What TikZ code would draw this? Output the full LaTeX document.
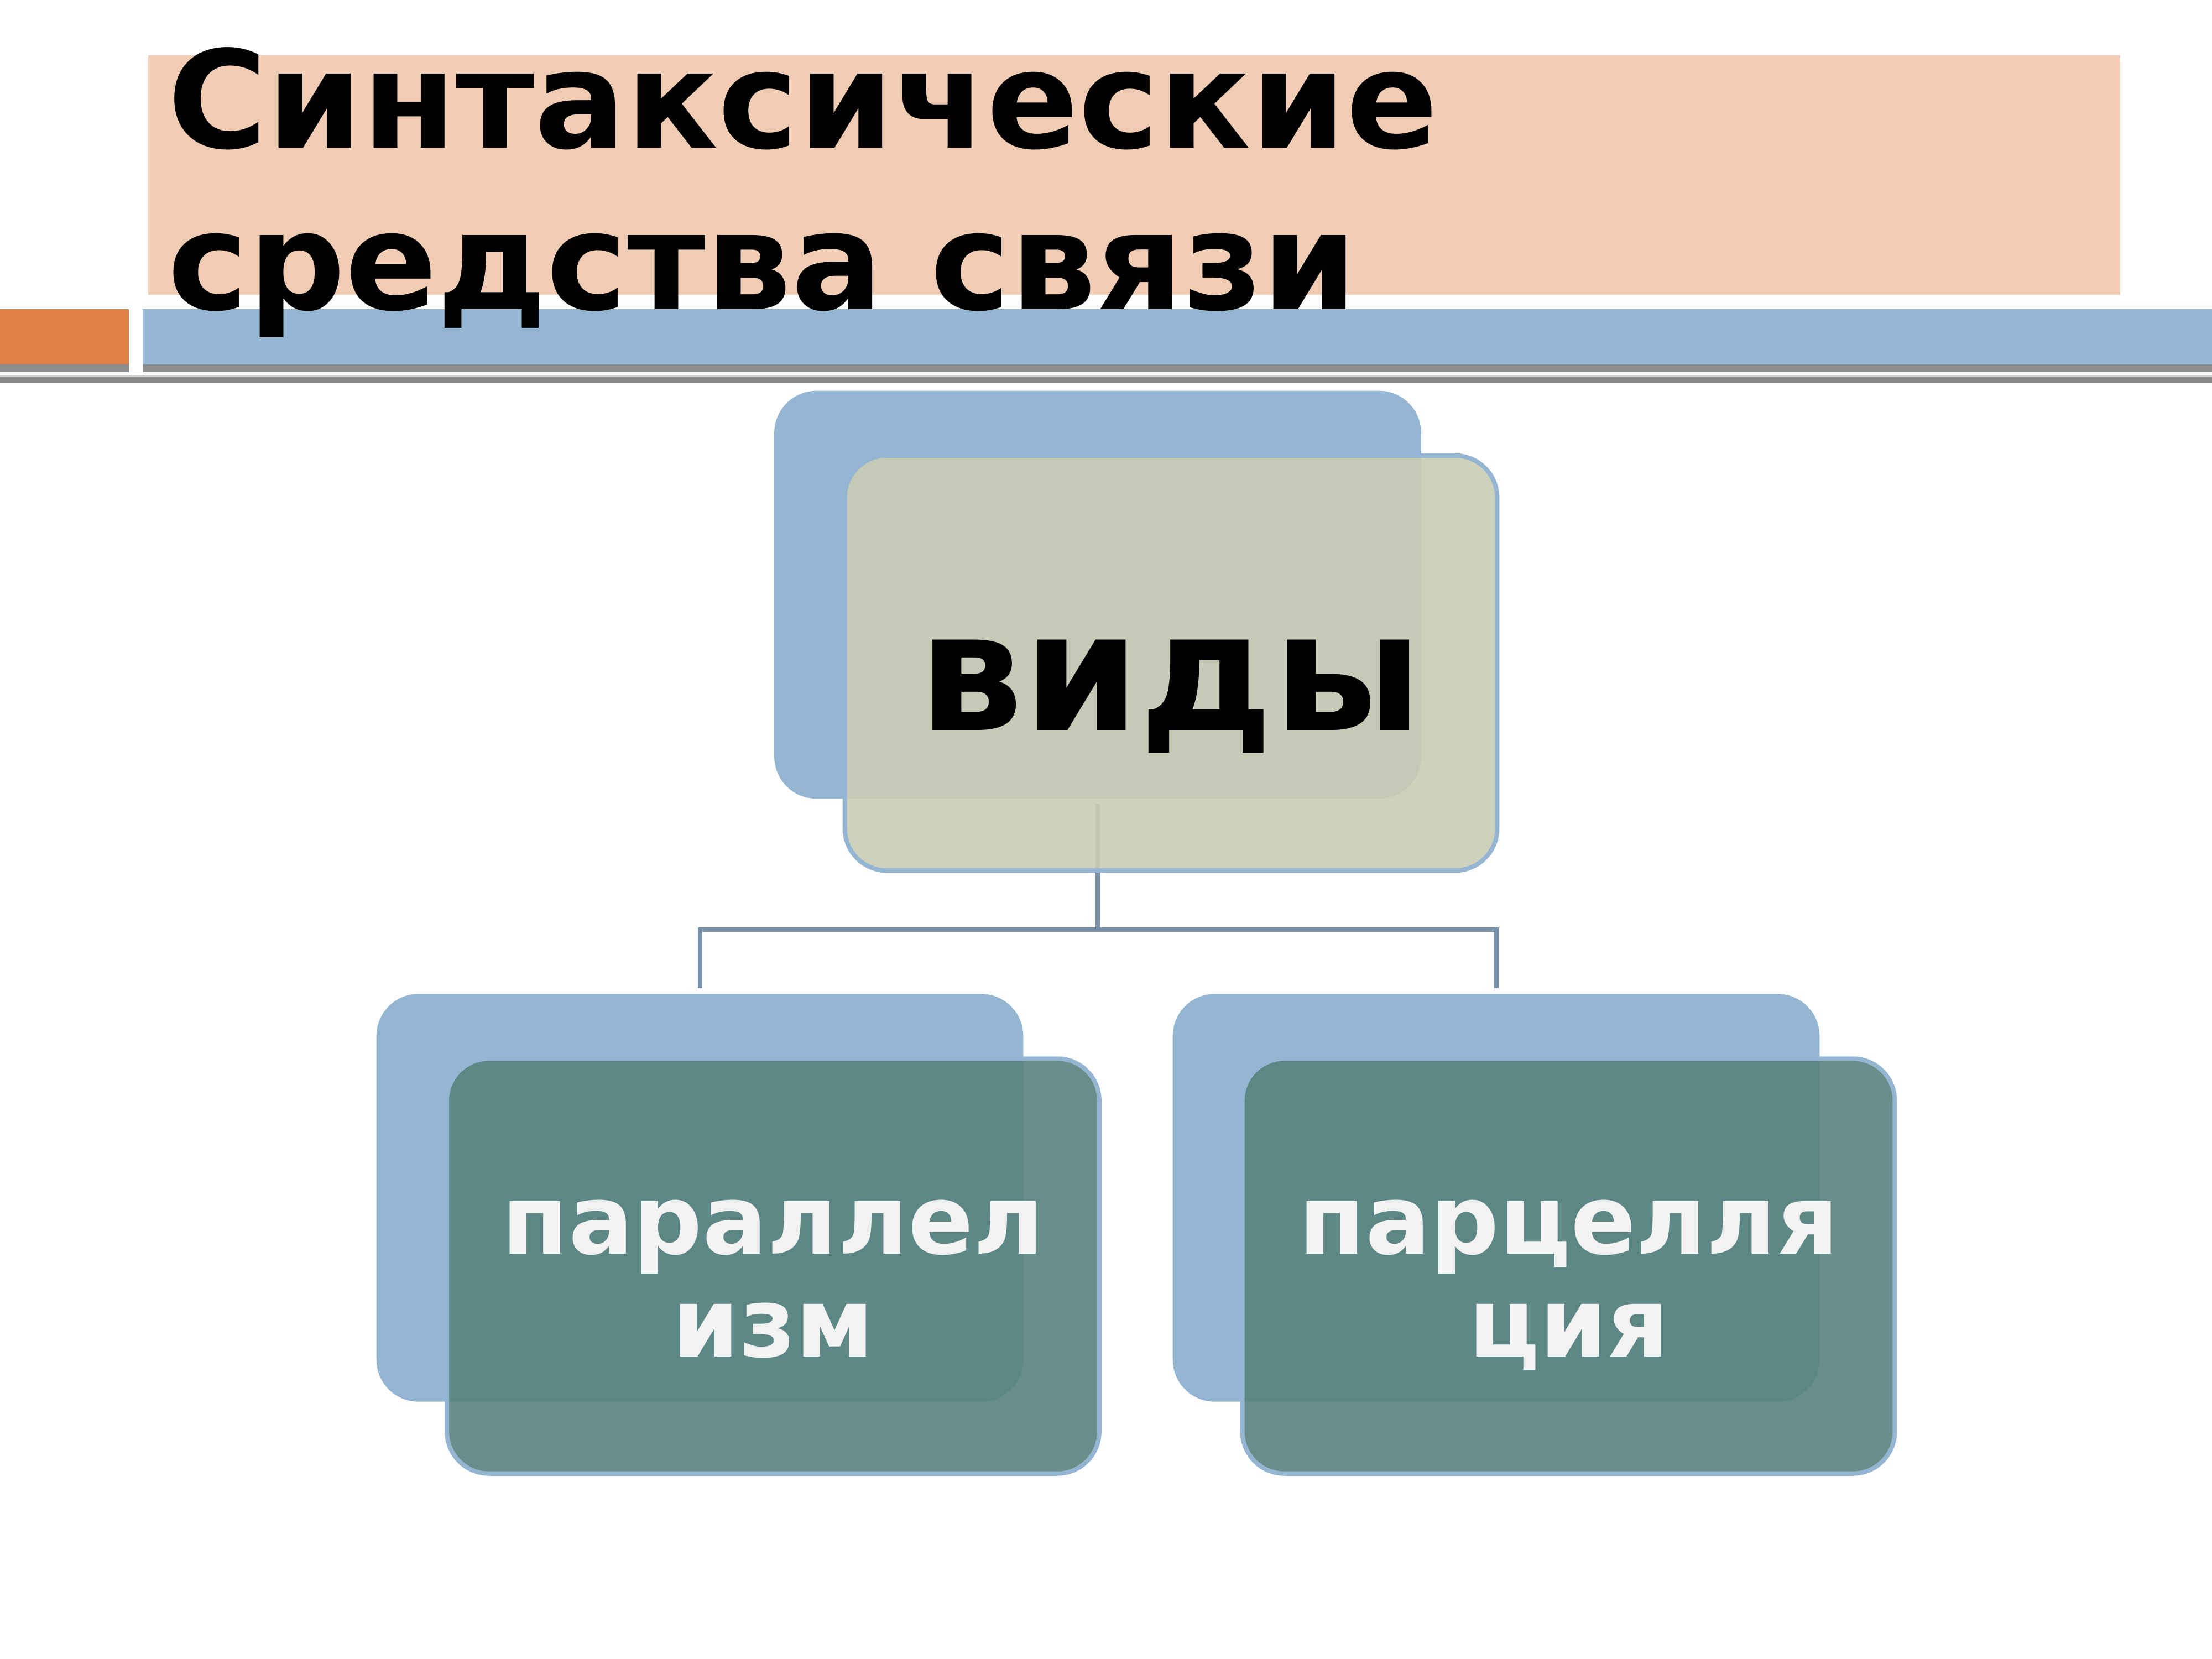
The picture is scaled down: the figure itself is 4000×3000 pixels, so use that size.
\documentclass[tikz,border=0pt]{standalone}
\usepackage{fontspec}
\setmainfont{DejaVu Sans}
\definecolor{peach}{RGB}{240,204,180}
\definecolor{barorange}{RGB}{222,128,72}
\definecolor{barblue}{RGB}{149,182,211}
\definecolor{bargray}{RGB}{140,140,140}
\definecolor{barlight}{RGB}{205,205,205}
\definecolor{connc}{RGB}{120,145,169}
\definecolor{khakibox}{RGB}{202,205,180}
\definecolor{tealbox}{RGB}{88,131,124}
\definecolor{labwhite}{RGB}{242,242,242}
\begin{document}
\begin{tikzpicture}[x=0.01cm,y=-0.01cm,
  backbox/.style={fill=barblue, rounded corners=0.76cm, minimum width=11.69cm, minimum height=7.37cm, inner sep=0, outer sep=0},
  frontbox/.style={draw=barblue, line width=0.08cm, fill opacity=0.906, rounded corners=0.76cm, minimum width=11.79cm, minimum height=7.50cm, inner sep=0, outer sep=0},
  conn/.style={draw=connc, line width=0.08cm, shorten <=0.1cm, shorten >=0.1cm},
  titletext/.style={anchor=base west, inner sep=0, font=\fontsize{69.7}{84}\selectfont\bfseries},
  lab/.style={anchor=base, inner sep=0, text=labwhite, font=\fontsize{49.5}{53}\selectfont\bfseries},
]
\useasboundingbox (0,0) rectangle (4000,3000);
\fill[white] (0,0) rectangle (4000,3000);
% title band
\fill[peach] (268,100) rectangle (3834,533);
\fill[barorange] (0,559) rectangle (233,659);
\fill[bargray] (0,659) rectangle (233,673);
\fill[barblue] (258,559) rectangle (4000,659);
\fill[bargray] (258,659) rectangle (4000,673);
\fill[barlight] (0,679) rectangle (4000,681);
\fill[bargray] (0,681) rectangle (4000,693);
\node[titletext] (t1) at (303,268) {Синтаксические};
\node[titletext] (t2) at (303,559) {средства связи};
% back boxes
\node[backbox] (cb) at (1985,1075.5) {};
\node[backbox] (lb) at (1265.5,2166) {};
\node[backbox] (rb) at (2705.5,2166) {};
% connectors
\draw[conn] (cb.south) -- ++(0,237) -| (lb.north);
\draw[conn] (cb.south) -- ++(0,237) -| (rb.north);
% front boxes
\node[frontbox, fill=khakibox] (cf) at (2117.5,1199) {};
\node[frontbox, fill=tealbox] (lf) at (1398,2289.5) {};
\node[frontbox, fill=tealbox] (rf) at (2836.5,2289.5) {};
% labels
\node[anchor=base, inner sep=0, font=\fontsize{85}{90}\selectfont\bfseries] (vl) at (2117,1320) {виды};
\node[lab] (l1) at (1398,2267) {параллел};
\node[lab] (l2) at (1398,2453) {изм};
\node[lab] (r1) at (2837,2267) {парцелля};
\node[lab] (r2) at (2837,2453) {ция};
\end{tikzpicture}
\end{document}
